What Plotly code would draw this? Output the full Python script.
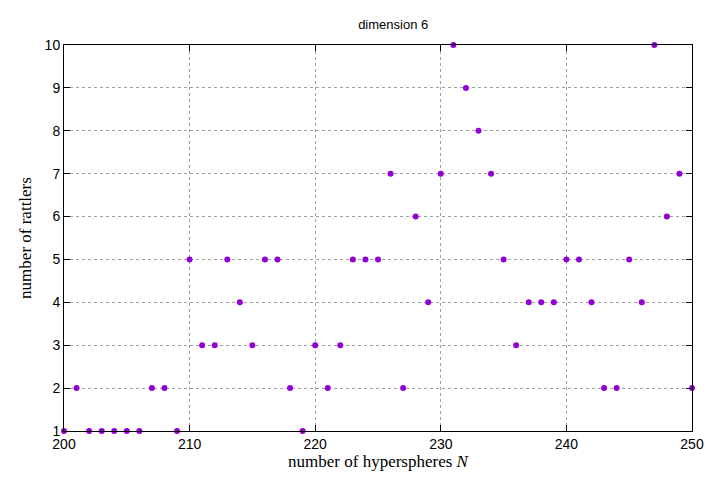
import plotly.graph_objects as go

n_spheres = list(range(200, 251))
rattlers = [1, 2, 1, 1, 1, 1, 1, 2, 2, 1,
            5, 3, 3, 5, 4, 3, 5, 5, 2, 1,
            3, 2, 3, 5, 5, 5, 7, 2, 6, 4,
            7, 10, 9, 8, 7, 5, 3, 4, 4, 4,
            5, 5, 4, 2, 2, 5, 4, 10, 6, 7,
            2]

fig = go.Figure(go.Scatter(
    x=n_spheres, y=rattlers, mode="markers",
    marker=dict(color="#9400d3", size=6, symbol="circle"),
    cliponaxis=False,
))

axis_common = dict(
    showline=True, mirror="ticks", linecolor="black", linewidth=1,
    ticks="inside", ticklen=6, tickcolor="black",
    showgrid=True, gridcolor="#a0a0a0", griddash="dot", gridwidth=1,
    zeroline=False, tickfont=dict(family="Liberation Sans", size=14, color="black"),
)

# page body adds an 8px offset, so margins are shifted to compensate
fig.update_layout(
    width=720, height=480,
    plot_bgcolor="white", paper_bgcolor="white",
    margin=dict(l=56, r=36, t=37, b=57),
    showlegend=False,
    title=dict(text="dimension 6", x=0.535, xanchor="center", y=0.975,
               font=dict(family="Liberation Sans", size=13, color="black")),
    xaxis=dict(axis_common, range=[200, 250], dtick=10,
               title=dict(text="number of hyperspheres <i>N</i>", standoff=4,
                          font=dict(family="Liberation Serif", size=17, color="black"))),
    yaxis=dict(axis_common, range=[1, 10], dtick=1,
               title=dict(text="number of rattlers", standoff=8,
                          font=dict(family="Liberation Serif", size=17, color="black"))),
)

fig.write_html("out.html")
